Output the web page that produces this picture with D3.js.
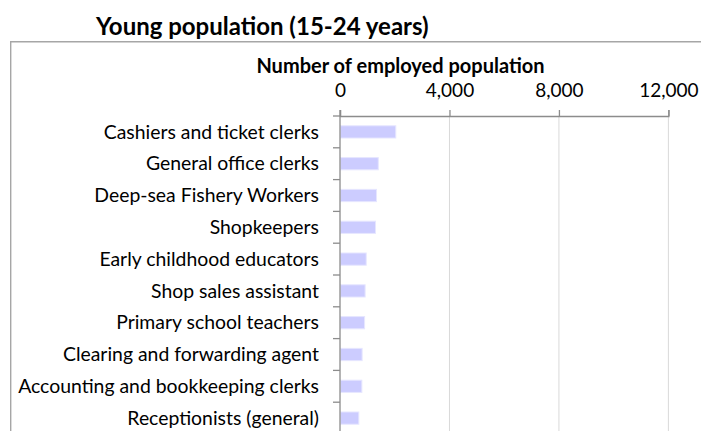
<!doctype html>
<html lang="en">
  <head>
    <meta charset="utf-8">
    <script src="https://cdn.jsdelivr.net/npm/d3@7"></script>
    <style>
      body {margin:0; background:#fff}
      svg {display:block}
      text {font-family: Lato, 'Open Sans', sans-serif; fill:#000}
      #title {font-size:24px; font-weight:bold}
      #x-title {font-size:20px; font-weight:bold}
      .bar {fill:#ccccff; stroke:#e6e6ff; stroke-width:1}
    </style>
    <title>Young population (15-24 years)</title>
  </head>
  <body>
    <script>
      let occupations = ["Cashiers and ticket clerks", "General office clerks", "Deep-sea Fishery Workers",
        "Shopkeepers", "Early childhood educators", "Shop sales assistant", "Primary school teachers",
        "Clearing and forwarding agent", "Accounting and bookkeeping clerks", "Receptionists (general)"];
      let employed = [2020, 1380, 1315, 1280, 940, 900, 880, 790, 780, 670];
      let xTicks = [0, 4000, 8000, 12000];

      let w = 701, h = 431;
      let plotLeft = 340, plotRight = 668.4, plotTop = 116, band = 31.8;

      let svg = d3.select("body").append("svg")
        .attr("width", w)
        .attr("height", h);

      let x = d3.scaleLinear().domain([0, 12000]).range([plotLeft, plotRight]);
      let y = d3.scaleBand().domain(occupations)
        .range([plotTop, plotTop + band * occupations.length])
        .paddingInner(0.615).paddingOuter(0.3075);

      // chart area frame (top + left edges only, the rest is cropped)
      svg.append("path")
        .attr("d", "M10.7," + h + "V41.7H" + w)
        .attr("fill", "none")
        .attr("stroke", "#a6a6a6")
        .attr("stroke-width", 1.4);

      svg.append("text")
        .attr("id", "title")
        .attr("x", 96)
        .attr("y", 35)
        .text("Young population (15-24 years)");

      // gridlines
      svg.append("g")
        .selectAll("line")
        .data(xTicks.slice(1))
        .enter()
        .append("line")
        .attr("x1", d => x(d)).attr("x2", d => x(d))
        .attr("y1", plotTop).attr("y2", h)
        .attr("stroke", "#d9d9d9");

      svg.selectAll("rect.bar")
        .data(employed)
        .enter()
        .append("rect")
        .attr("class", "bar")
        .attr("x", x(0) + 0.5)
        .attr("y", (d, i) => y(occupations[i]))
        .attr("width", d => x(d) - x(0))
        .attr("height", y.bandwidth());

      // x axis on top
      let xAxis = d3.axisTop(x).tickValues(xTicks).tickSize(6).tickPadding(13)
        .tickFormat(d3.format(","));
      let gx = svg.append("g")
        .attr("id", "x-axis")
        .attr("transform", "translate(0," + plotTop + ")")
        .call(xAxis);
      gx.attr("font-family", null).attr("font-size", null);
      gx.select(".domain").attr("stroke", "#8c8c8c").attr("stroke-width", 1.3);
      gx.selectAll(".tick line").attr("stroke", "#8c8c8c").attr("stroke-width", 1.3);
      gx.selectAll(".tick text").attr("font-size", "19px").attr("fill", "#000");

      svg.append("text")
        .attr("id", "x-title")
        .attr("x", 400.5)
        .attr("y", 73)
        .attr("text-anchor", "middle")
        .text("Number of employed population");

      // y axis: ticks sit between categories
      let bounds = d3.range(occupations.length + 1).map(i => plotTop + i * band);
      let gy = svg.append("g").attr("id", "y-axis");
      gy.append("line")
        .attr("x1", plotLeft).attr("x2", plotLeft)
        .attr("y1", plotTop - 6).attr("y2", h)
        .attr("stroke", "#8c8c8c").attr("stroke-width", 1.3);
      gy.selectAll("line.tk")
        .data(bounds)
        .enter()
        .append("line")
        .attr("class", "tk")
        .attr("x1", plotLeft - 7).attr("x2", plotLeft)
        .attr("y1", d => d).attr("y2", d => d)
        .attr("stroke", "#8c8c8c").attr("stroke-width", 1.3);

      gy.selectAll("text")
        .data(occupations)
        .enter()
        .append("text")
        .attr("x", 319)
        .attr("y", d => y(d) + y.bandwidth() / 2)
        .attr("dy", "0.35em")
        .attr("text-anchor", "end")
        .attr("font-size", "19.4px")
        .text(d => d);
    </script>
  </body>
</html>
